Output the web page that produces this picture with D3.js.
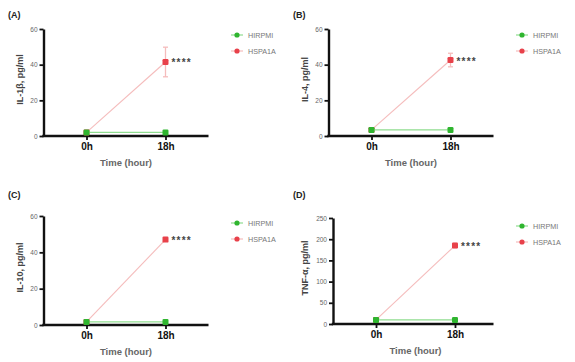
<!DOCTYPE html>
<html>
<head>
<meta charset="utf-8">
<script src="https://cdn.jsdelivr.net/npm/d3@7"></script>
<style>
  body { margin: 0; background: #fff; }
  svg { font-family: Arial, "Liberation Sans", sans-serif; }
</style>
</head>
<body>
<svg id="chart" width="575" height="362"></svg>
<script>
// data
const hours = [0, 18];
const hourLabels = ["0h", "18h"];
const seriesNames = ["HIRPMI", "HSPA1A"];
const panelTags = ["(A)", "(B)", "(C)", "(D)"];
const yTitles = ["IL-1\u03b2, pg/ml", "IL-4, pg/ml", "IL-10, pg/ml", "TNF-\u03b1, pg/ml"];
const yMax = [60, 60, 60, 250];
const yTicks = [[0, 20, 40, 60], [0, 20, 40, 60], [0, 20, 40, 60], [0, 50, 100, 150, 200, 250]];
const hirpmi = [[2, 2], [3.4, 3.4], [1.7, 1.7], [9.5, 9.5]];
const hspa1a = [[2, 41.5], [3.4, 42.6], [1.7, 47], [9.5, 185]];
const hspa1aErr = [[0, 8.3], [0, 3.8], [0, 0.5], [0, 5]];
const signif = ["****", "****", "****", "****"];

const colors = { HIRPMI: "#2fb52f", HSPA1A: "#e8414a" };
const lineColors = { HIRPMI: "#8fdc8f", HSPA1A: "#f5bcbc" };

const svg = d3.select("#chart");

// panel placement
const panels = [
  { ox: 0,   oy: 0,   axisX: 43.5, top: 29,  bottom: 136, legY: 35,  legX: 237 },
  { ox: 285, oy: 0,   axisX: 43.5, top: 29,  bottom: 136, legY: 35,  legX: 237 },
  { ox: 0,   oy: 180, axisX: 43.5, top: 36,  bottom: 145, legY: 43,  legX: 237 },
  { ox: 285, oy: 180, axisX: 48,   top: 38,  bottom: 144, legY: 46,  legX: 237 }
];

panels.forEach((p, i) => {
  const g = svg.append("g").attr("transform", "translate(" + p.ox + "," + p.oy + ")");

  g.append("text").attr("x", 8).attr("y", 18)
    .attr("font-size", 9).attr("font-weight", "bold").attr("fill", "#222")
    .text(panelTags[i]);

  const plot = g.append("g").attr("transform", "translate(" + p.axisX + ",0)");
  const w = 165 - (p.axisX - 43.5);
  const x = d3.scaleLinear().domain([-9.8, 27.8]).range([0, 165]);
  const y = d3.scaleLinear().domain([0, yMax[i]]).range([p.bottom, p.top]);

  // y axis
  const ya = plot.append("g")
    .call(d3.axisLeft(y).tickValues(yTicks[i]).tickSize(4).tickPadding(2).tickSizeOuter(0));
  ya.select(".domain").attr("stroke", "#111").attr("stroke-width", 2.4);
  ya.selectAll(".tick line").attr("stroke", "#111").attr("stroke-width", 1.8);
  ya.selectAll(".tick text").attr("font-size", 6.5).attr("fill", "#666");

  // x axis
  const xa = plot.append("g").attr("transform", "translate(0," + p.bottom + ")")
    .call(d3.axisBottom(x).tickValues(hours).tickFormat((d, k) => hourLabels[k])
      .tickSize(4).tickPadding(3).tickSizeOuter(0));
  xa.select(".domain").attr("d", "M-1.2,0H" + w).attr("stroke", "#111").attr("stroke-width", 2.4);
  xa.selectAll(".tick line").attr("stroke", "#111").attr("stroke-width", 1.8);
  xa.selectAll(".tick text").attr("font-size", 10).attr("font-weight", "bold").attr("fill", "#111");

  plot.append("text")
    .attr("x", (x(0) + x(18)) / 2).attr("y", p.bottom + 30)
    .attr("text-anchor", "middle").attr("font-size", 9.5).attr("font-weight", "bold").attr("fill", "#666")
    .text("Time (hour)");

  plot.append("text")
    .attr("transform", "translate(" + (-p.axisX + 23) + "," + ((p.top + p.bottom) / 2 - 3) + ") rotate(-90)")
    .attr("text-anchor", "middle").attr("font-size", 9).attr("font-weight", "bold").attr("fill", "#444")
    .text(yTitles[i]);

  const line = d3.line().x((d, k) => x(hours[k])).y(d => y(d));

  // HSPA1A series with error bars
  plot.append("path").datum(hspa1a[i]).attr("d", line)
    .attr("fill", "none").attr("stroke", lineColors.HSPA1A).attr("stroke-width", 1.1);
  hspa1a[i].forEach((v, k) => {
    const e = hspa1aErr[i][k];
    if (e > 0) {
      const cx = x(hours[k]);
      plot.append("line").attr("x1", cx).attr("x2", cx).attr("y1", y(v + e)).attr("y2", y(v - e))
        .attr("stroke", lineColors.HSPA1A).attr("stroke-width", 1.3);
      [v + e, v - e].forEach(c => plot.append("line")
        .attr("x1", cx - 2.5).attr("x2", cx + 2.5).attr("y1", y(c)).attr("y2", y(c))
        .attr("stroke", lineColors.HSPA1A).attr("stroke-width", 1.3));
    }
  });
  plot.selectAll(".pt-red").data(hspa1a[i]).enter().append("rect")
    .attr("x", (d, k) => x(hours[k]) - 3).attr("y", d => y(d) - 3)
    .attr("width", 6).attr("height", 6).attr("rx", 1.2)
    .attr("fill", colors.HSPA1A);

  // HIRPMI series
  plot.append("path").datum(hirpmi[i]).attr("d", line)
    .attr("fill", "none").attr("stroke", lineColors.HIRPMI).attr("stroke-width", 1.3);
  plot.selectAll(".pt-green").data(hirpmi[i]).enter().append("rect")
    .attr("x", (d, k) => x(hours[k]) - 3).attr("y", d => y(d) - 3)
    .attr("width", 6).attr("height", 6).attr("rx", 1.2)
    .attr("fill", colors.HIRPMI);

  // significance stars
  plot.append("text")
    .attr("x", x(18) + 6).attr("y", y(hspa1a[i][1]) + 4.5)
    .attr("font-size", 10).attr("font-weight", "bold").attr("fill", "#444")
    .attr("letter-spacing", 1.2)
    .text(signif[i]);

  // legend
  const leg = g.append("g").attr("transform", "translate(" + p.legX + "," + p.legY + ")");
  seriesNames.forEach((s, k) => {
    const row = leg.append("g").attr("transform", "translate(0," + k * 16 + ")");
    row.append("line").attr("x1", -6).attr("x2", 6).attr("stroke", lineColors[s]).attr("stroke-width", 1.2);
    row.append("circle").attr("r", 2.6).attr("fill", colors[s]);
    row.append("text").attr("x", 11).attr("y", 3).attr("font-size", 7.2).attr("fill", "#777").text(s);
  });
});
</script>
</body>
</html>
